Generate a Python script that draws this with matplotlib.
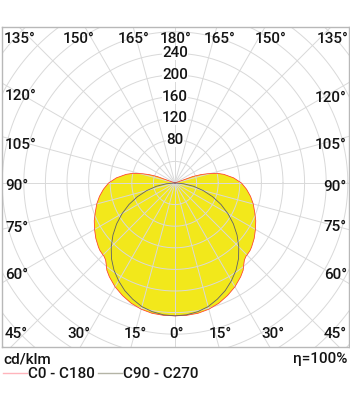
import numpy as np
import matplotlib
matplotlib.use('Agg')
import matplotlib.pyplot as plt
from matplotlib.lines import Line2D

# ---- data (cd/klm vs. angle from nadir, degrees) ----
angles_c0 = [0, 5, 10, 15, 20, 25, 30, 35, 38, 40, 42, 44, 46, 48, 50, 55, 60, 65,
             70, 75, 80, 85, 90, 95, 100, 103, 106, 108, 110, 112, 115, 180]
cd_c0_c180 = [246, 246, 245, 242, 237, 230, 222, 212, 205, 198, 192, 189, 188, 187, 185,
              179, 172, 165, 157, 150, 142, 133, 123, 109, 92, 80, 62, 50, 35, 0, 0, 0]
angles_c90 = [0, 5, 10, 15, 20, 25, 30, 35, 40, 45, 50, 55, 60, 65, 70, 75, 80, 85, 90, 180]
cd_c90_c270 = [246, 245, 242, 237, 229, 220, 209, 197, 183, 167, 150, 132, 113, 94, 74,
               54, 35, 16, 0, 0]
ring_values = [40, 80, 120, 160, 200, 240, 280, 320, 360, 400, 440]
ring_labels = [80, 120, 160, 200, 240]
spoke_angles = list(range(0, 360, 15))
series_names = ["C0 - C180", "C90 - C270"]
unit_label = "cd/klm"
eff_label = "η=100%"

# angle labels: text, pixel positions
top_labels = ["135°", "150°", "165°", "180°", "165°", "150°", "135°"]
top_x = [20, 79, 134, 176, 220, 271, 333]
left_labels = ["120°", "105°", "90°", "75°", "60°", "45°"]
left_y = [96, 145, 186, 228, 275, 334]
right_labels = ["120°", "105°", "90°", "75°", "60°", "45°"]
right_y = [98, 145, 187, 227, 275, 334]
bottom_labels = ["30°", "15°", "0°", "15°", "30°"]
bottom_x = [79, 135, 177, 220, 273]

W, H = 350, 395
plt.rcParams['font.family'] = ['Roboto', 'DejaVu Sans']
FS = 11.0
FW = 'medium'
TC = '#141414'
fig = plt.figure(figsize=(W / 100, H / 100), dpi=100)
fig.patch.set_facecolor('white')

L, R, T, B = 1.5, 348.5, 27, 347
ax = fig.add_axes([L / W, (H - B) / H, (R - L) / W, (B - T) / H])
ox, oy = 175, 183
scale = 0.54  # px per cd/klm
ax.set_xlim(-(ox - L) / scale, (R - ox) / scale)
ax.set_ylim(-(B - oy) / scale, (oy - T) / scale)
ax.set_xticks([])
ax.set_yticks([])
for s in ax.spines.values():
    s.set_color('#b8b8b8')
    s.set_linewidth(1.0)

grid_c = '#d9d9d9'
t = np.linspace(0, 2 * np.pi, 400)
for rv in ring_values:
    ax.plot(rv * np.cos(t), rv * np.sin(t), color=grid_c, lw=0.7, zorder=2)
for a in spoke_angles:
    ar = np.deg2rad(a)
    ax.plot([0, 600 * np.sin(ar)], [0, -600 * np.cos(ar)], color=grid_c, lw=0.7, zorder=2)

th0 = np.deg2rad(np.array(angles_c0))
r0 = np.array(cd_c0_c180, dtype=float)
xl, yl = -r0 * np.sin(th0), -r0 * np.cos(th0)
xr, yr = r0 * np.sin(th0), -r0 * np.cos(th0)
px = np.concatenate([xl[::-1], xr])
py = np.concatenate([yl[::-1], yr])
ax.fill(px, py, color='#F2E81B', zorder=1, lw=0)
ax.plot(px, py, color='#ff3a2a', lw=0.55, zorder=3)

th9 = np.deg2rad(np.array(angles_c90))
r9 = np.array(cd_c90_c270, dtype=float)
x9 = np.concatenate([(-r9 * np.sin(th9))[::-1], r9 * np.sin(th9)])
y9 = np.concatenate([(-r9 * np.cos(th9))[::-1], -r9 * np.cos(th9)])
ax.plot(x9, y9, color='#5f5f6a', lw=0.6, zorder=3)

for rv in ring_labels:
    ax.text(0, rv, str(rv), ha='center', va='center', fontsize=FS, color=TC,
            fontweight=FW, zorder=5,
            bbox=dict(boxstyle='square,pad=0.0', fc='white', ec='none'))


def fx(x):
    return x / W


def fy(y):
    return 1 - y / H


kw = dict(fontsize=FS, color=TC, fontweight=FW, va='center')
for lab, x in zip(top_labels, top_x):
    fig.text(fx(x), fy(39), lab, ha='center', **kw)
for lab, y in zip(left_labels, left_y):
    fig.text(fx(5), fy(y), lab, ha='left', **kw)
for lab, y in zip(right_labels, right_y):
    fig.text(fx(347), fy(y), lab, ha='right', **kw)
for lab, x in zip(bottom_labels, bottom_x):
    fig.text(fx(x), fy(334), lab, ha='center', **kw)

fig.text(fx(3), fy(359), unit_label, ha='left', **kw)
fig.text(fx(347), fy(359), eff_label, ha='right', **kw)

h1 = Line2D([], [], color='#ffb4bc', lw=1.0)
h2 = Line2D([], [], color='#b4b4a6', lw=1.0)
leg = fig.legend([h1, h2], series_names, loc='center left', bbox_to_anchor=(fx(3), fy(374)),
                 ncol=2, frameon=False, handlelength=1.55, handletextpad=0.1,
                 columnspacing=0.2, borderpad=0, borderaxespad=0,
                 prop={'size': FS, 'weight': FW})
for txt in leg.get_texts():
    txt.set_color(TC)

fig.savefig('out.png', dpi=100, facecolor='white')
